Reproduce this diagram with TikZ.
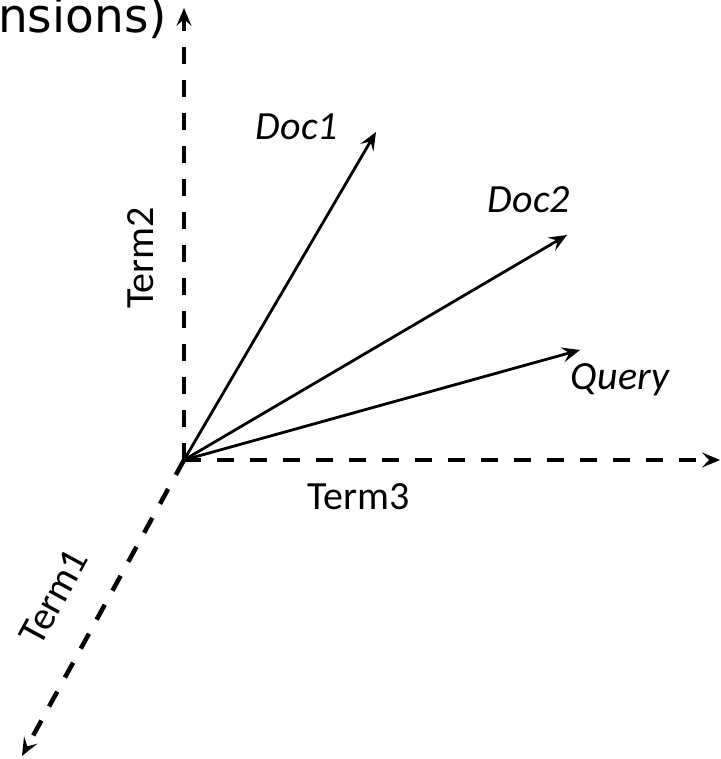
\documentclass[tikz,border=0pt]{standalone}
\usepackage{fontspec}
\setmainfont{Carlito}
\newfontfamily\titlefont{DejaVu Sans}
\usetikzlibrary{arrows.meta}
\begin{document}
\begin{tikzpicture}[x=1pt,y=1pt,
  tip/.style={-{Stealth[length=18pt,width=15pt,inset=7pt]}},
  axis/.style={line width=4.5pt, dash pattern=on 17pt off 16pt, tip},
  vec/.style={line width=2.8pt, tip},
  lbl/.style={font=\fontsize{40}{42}\selectfont, inner sep=0pt},
  ilbl/.style={font=\fontsize{40}{42}\selectfont\itshape, inner sep=0pt}]
\clip (0,0) rectangle (720,759);

% origin and axis / vector end points
\coordinate (O) at (184,299);
\coordinate (t1) at (22,3);
\coordinate (t2) at (184,751);
\coordinate (t3) at (720,299);
\coordinate (d1) at (376,627);
\coordinate (d2) at (567,524);
\coordinate (q) at (580,409);

% dashed term axes
\draw[axis] (O) -- (t2);
\draw[axis] (O) -- (t3);
\draw[axis] (O) -- (t1);

% document and query vectors
\draw[vec] (O) -- (d1);
\draw[vec] (O) -- (d2);
\draw[vec] (O) -- (q);

% labels
\node[lbl, rotate=90] (l2) at (141,501) {Term2};
\node[lbl] (l3) at (359,262) {Term3};
\node[lbl, rotate=61.5] (l1) at (54,162) {Term1};
\node[ilbl] (ld1) at (297,632) {Doc1};
\node[ilbl] (ld2) at (529,559) {Doc2};
\node[ilbl] (lq) at (620,379) {Query};
\node[font=\titlefont\fontsize{47}{49}\selectfont, inner sep=0pt, anchor=base west] (title) at (-2,726) {nsions)};
\end{tikzpicture}
\end{document}
